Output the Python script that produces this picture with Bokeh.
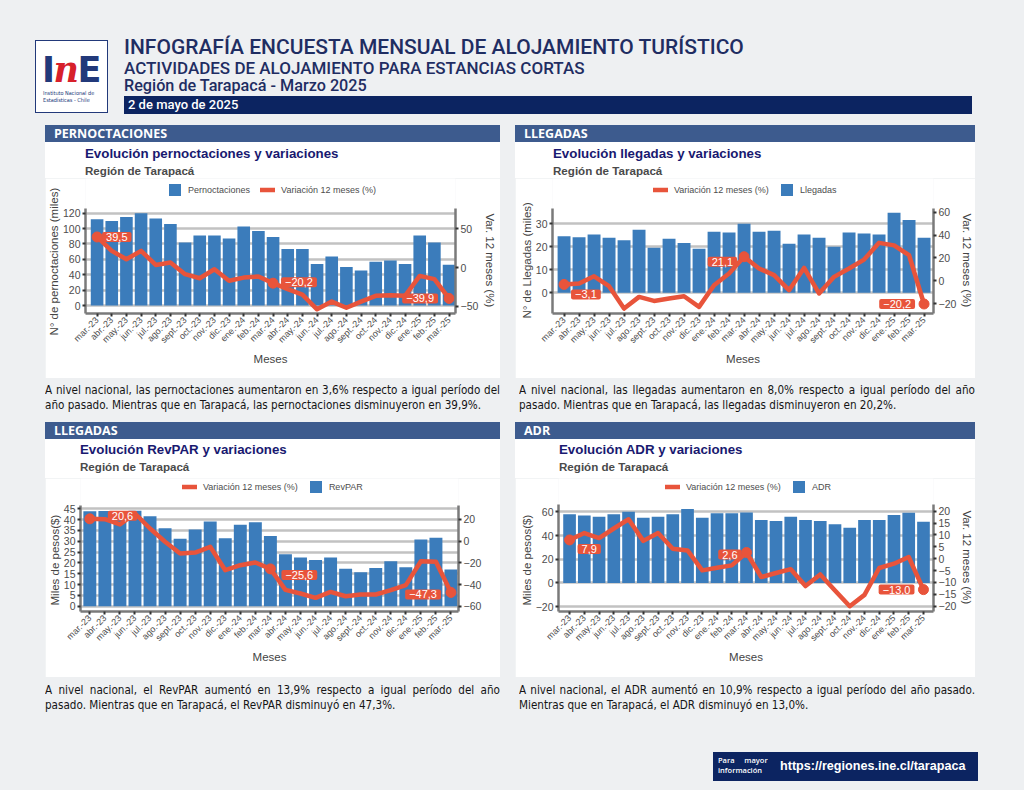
import math
from bokeh.plotting import figure
from bokeh.models import (Range1d, LinearAxis, FixedTicker, Legend, LegendItem,
                          Label, Div, Spacer, Title)
from bokeh.layouts import column, row
from bokeh.embed import file_html
from bokeh.resources import INLINE

# ---------------- data ----------------
months = ["mar.-23", "abr.-23", "may.-23", "jun.-23", "jul.-23", "ago.-23", "sept.-23",
          "oct.-23", "nov.-23", "dic.-23", "ene.-24", "feb.-24", "mar.-24", "abr.-24",
          "may.-24", "jun.-24", "jul.-24", "ago.-24", "sept.-24", "oct.-24", "nov.-24",
          "dic.-24", "ene.-25", "feb.-25", "mar.-25"]

pernoctaciones = [112, 110, 115, 120, 113, 106, 82, 91, 91, 87, 102.6, 97, 89, 73.6, 73.6,
                  54, 63.6, 50, 45.5, 57, 58.4, 54, 91, 82, 53]
pernoctaciones_var = [39.5, 21.5, 10.8, 21.5, 3.4, 6.5, -8.6, -13.8, -2.2, -17, -13, -11.6,
                      -20.2, -28, -35, -54, -44, -52, -44, -36.6, -35.8, -36.6, -10.8, -15, -39.9]

llegadas = [24.6, 24.2, 25.4, 23.9, 22.8, 27.4, 19.6, 23.5, 21.7, 19.1, 26.5, 26.2, 30, 26.5,
            27, 21.3, 25.4, 23.9, 20, 26.2, 25.8, 25.4, 34.8, 31.7, 23.9]
llegadas_var = [-3.1, -2.3, 4, -4.7, -24.2, -14, -17.5, -15.4, -13.4, -22.7, -3.8, 6.4, 21.1,
                10.8, 5, -8.1, 11.3, -11, 3.5, 10.8, 18.6, 33.2, 31, 22.4, -20.2]

revpar = [43.8, 44, 43, 44.1, 41.5, 36, 31.1, 35.4, 39.1, 31.4, 37.6, 38.8, 32.4, 24, 22.5,
          21.3, 22.5, 17.3, 15.7, 17.6, 20.8, 18, 30.8, 31.6, 17]
revpar_var = [20.6, 20.3, 15.4, 25.5, 11.7, -0.6, -11.4, -10.5, -5.2, -26.8, -22.2, -19.7,
              -25.6, -45, -48.3, -52.3, -46.8, -50.8, -49.2, -49.2, -45.2, -40.6, -18.5, -19, -47.3]

adr = [58, 57.1, 56, 58, 60.2, 55.1, 56, 58, 62.5, 55.1, 58.8, 58.8, 59.6, 53.1, 52.3, 56,
       53.1, 52.3, 49.5, 46.6, 53.1, 53.1, 57.4, 59.4, 51.7]
adr_var = [7.9, 10.8, 8.7, 12.7, 16.6, 7.5, 10.8, 4.2, 3.5, -4.9, -3.8, -2.8, 2.6, -7.7, -6,
           -4.4, -11.5, -6.6, -13.4, -20, -15.2, -3.9, -2.1, 0.7, -13.0]

labeled_idx = [0, 12, 24]

# ---------------- styles ----------------
BG = "#eef0f2"
BLUE = "#3b7cbb"
RED = "#e8543b"
NAVY = "#0c2461"
SECTION = "#3d5b8e"
FONT = "Liberation Sans"
MINUS = "\u2212"


def fmt_num(v):
    s = ("%g" % v) if float(v).is_integer() else ("%.1f" % v)
    return s.replace("-", MINUS)


def fmt_lab(v):
    return ("%.1f" % v).replace(".", ",").replace("-", MINUS)


def axis_title(text, offset, standoff):
    return Title(text=text, align="left", offset=offset, standoff=standoff,
                 text_font=FONT, text_font_size="11.5px", text_font_style="normal",
                 text_color="#444444")


def make_chart(bars, var, bar_name, bar_first, width, height, borders, extra_top,
               xr, yr, y2r, yticks, y2ticks, ylab, y2lab, legend_xy, label_offsets):
    """borders = (left, right, bottom); extra_top = pixels of frame above the plotting
    area that hold the legend (axes are bounded to the plotting area).
    ylab / y2lab = (text, offset, standoff)."""
    x = list(range(len(months)))
    frame_h = height - borders[2]
    plot_h = frame_h - extra_top

    def ext(r):
        return (r[0], r[1] + (r[1] - r[0]) * extra_top / plot_h)

    p = figure(width=width, height=height, output_backend="svg", toolbar_location=None,
               x_range=Range1d(*xr), y_range=Range1d(*ext(yr)), title=None,
               min_border_left=borders[0], min_border_right=borders[1],
               min_border_top=0, min_border_bottom=borders[2])
    p.margin = 0
    p.extra_y_ranges = {"var": Range1d(*ext(y2r))}
    p.background_fill_color = "white"
    p.border_fill_color = "white"
    p.outline_line_color = None

    rb = p.vbar(x=x, top=bars, width=0.86, fill_color=BLUE, line_color=None)
    rl = p.line(x=x, y=var, y_range_name="var", line_color=RED, line_width=4.5,
                line_join="round", line_cap="round")
    p.scatter(x=[x[i] for i in labeled_idx], y=[var[i] for i in labeled_idx],
              y_range_name="var", size=10, color=RED)

    # axes
    p.xaxis.ticker = FixedTicker(ticks=x)
    p.xaxis.major_label_overrides = {i: m for i, m in zip(x, months)}
    p.xaxis.major_label_orientation = math.pi / 4
    p.xaxis.axis_label = "Meses"
    p.yaxis.ticker = FixedTicker(ticks=yticks)
    p.yaxis.major_label_overrides = {t: fmt_num(t) for t in yticks}
    p.yaxis.bounds = yr
    ax2 = LinearAxis(y_range_name="var", ticker=FixedTicker(ticks=y2ticks),
                     major_label_overrides={t: fmt_num(t) for t in y2ticks}, bounds=y2r)
    p.add_layout(ax2, "right")

    for ax in [p.xaxis[0], p.yaxis[0], ax2]:
        ax.axis_line_color = "#7a7a7a"
        ax.axis_line_width = 2.5
        ax.major_tick_line_color = "#333333"
        ax.major_tick_line_width = 2
        ax.major_tick_out = 3
        ax.major_tick_in = 0
        ax.minor_tick_line_color = None
        ax.major_label_text_font = FONT
        ax.major_label_text_font_size = "10.5px"
        ax.major_label_text_color = "#4d4d4d"
        ax.major_label_standoff = 2
        ax.axis_label_text_font = FONT
        ax.axis_label_text_font_style = "normal"
        ax.axis_label_text_font_size = "11.5px"
        ax.axis_label_text_color = "#444444"
        ax.axis_label_standoff = 1
    p.xaxis.major_label_text_font_size = "9px"
    p.xaxis.axis_label_standoff = 1

    # axis titles centred on the plotting area (not on the legend strip)
    p.add_layout(axis_title(*ylab), "left")
    if y2lab:
        p.add_layout(axis_title(*y2lab), "right")

    p.xgrid.grid_line_color = None
    p.ygrid.ticker = FixedTicker(ticks=yticks)
    p.ygrid.grid_line_color = "#c2c2c2"
    p.ygrid.grid_line_width = 2.5

    items_bar = LegendItem(label=bar_name, renderers=[rb])
    items_line = LegendItem(label="Variación 12 meses (%)", renderers=[rl])
    items = [items_bar, items_line] if bar_first else [items_line, items_bar]
    legend = Legend(items=items, orientation="horizontal",
                    location=(legend_xy[0], plot_h + legend_xy[1]),
                    glyph_width=15, glyph_height=15, label_height=15, label_standoff=6,
                    spacing=10, padding=0, margin=0, border_line_color=None,
                    background_fill_alpha=0, label_text_font=FONT,
                    label_text_font_size="9px", label_text_color="#4d4d4d")
    p.add_layout(legend)

    for i, (dx, dy, align) in zip(labeled_idx, label_offsets):
        p.add_layout(Label(x=x[i], y=var[i], y_range_name="var", text=fmt_lab(var[i]),
                           x_offset=dx, y_offset=dy, text_align=align,
                           text_baseline="middle", text_color="white",
                           text_font=FONT, text_font_size="11px",
                           background_fill_color=RED, border_line_color=None,
                           padding=dict(left=4, right=4, top=1, bottom=1),
                           border_radius=2))
    return p


VAR_LAB = "Var. 12 meses (%)"
fig1 = make_chart(pernoctaciones, pernoctaciones_var, "Pernoctaciones", True, 455, 200,
                  (38, 44, 65), 30, (-0.79, 24.44), (-10.4, 126.1), (-59.4, 76.3),
                  [0, 20, 40, 60, 80, 100, 120], [-50, 0, 50],
                  ("N° de pernoctaciones (miles)", -22, 0), (VAR_LAB, 35, 5), (82, 11),
                  [(5, 0, "left"), (8, 1, "left"), (-11, 0, "right")])
fig2 = make_chart(llegadas, llegadas_var, "Llegadas", False, 460, 200,
                  (37, 42, 65), 30, (-0.77, 24.63), (-9.0, 36.65), (-28.5, 63.2),
                  [0, 10, 20, 30], [-20, 0, 20, 40, 60],
                  ("N° de Llegadas (miles)", -5, 0), (VAR_LAB, 35, 2), (101, 11),
                  [(7, -10, "left"), (-7, -5, "right"), (-9, 0, "right")])
fig3 = make_chart(revpar, revpar_var, "RevPAR", False, 455, 199,
                  (35, 42, 66), 27, (-0.62, 24.5), (-2.45, 46.5), (-64.9, 32.9),
                  [0, 5, 10, 15, 20, 25, 30, 35, 40, 45], [-60, -40, -20, 0, 20],
                  ("Miles de pesos($)", 6, 0), None, (102, 11),
                  [(18, 3, "left"), (11, -6, "left"), (-10, -2, "right")])
fig4 = make_chart(adr, adr_var, "ADR", False, 460, 199,
                  (43, 42, 66), 26, (-0.75, 24.68), (-24.2, 66.3), (-22.2, 22.8),
                  [-20, 0, 20, 40, 60], [-20, -15, -10, -5, 0, 5, 10, 15, 20],
                  ("Miles de pesos($)", 6, 0), (VAR_LAB, 32, 2), (107, 10),
                  [(8, -9, "left"), (-5, -2, "right"), (-9, 0, "right")])

# ---------------- html blocks ----------------
DIVSTYLE = {"padding": "0", "margin": "0", "overflow": "hidden"}


def header_div():
    html = f"""
<div style="position:relative;width:1024px;height:120px;">
  <div style="position:absolute;left:35px;top:40px;width:73px;height:73px;background:#fff;border:1.5px solid #22397a;box-sizing:border-box;">
    <div style="position:absolute;left:6px;top:11px;font-family:'DejaVu Sans';font-weight:bold;font-size:35px;line-height:35px;letter-spacing:-1.5px;white-space:nowrap;">
      <span style="color:#22397a">I</span><span style="color:#d7202b;font-family:'DejaVu Serif';font-style:italic;">n</span><span style="color:#22397a">E</span>
    </div>
    <div style="position:absolute;left:7px;top:49px;font-family:'DejaVu Sans Condensed';font-size:5.5px;line-height:6.5px;color:#22397a;white-space:nowrap;">Instituto Nacional de<br>Estadísticas - Chile</div>
  </div>
  <div style="position:absolute;left:124px;top:37px;font-family:'Roboto';font-weight:500;font-size:21px;line-height:21px;color:#1f2d62;white-space:nowrap;">INFOGRAFÍA ENCUESTA MENSUAL DE ALOJAMIENTO TURÍSTICO</div>
  <div style="position:absolute;left:124px;top:59.5px;font-family:'Roboto';font-weight:500;font-size:17px;line-height:17px;color:#1f2d62;white-space:nowrap;">ACTIVIDADES DE ALOJAMIENTO PARA ESTANCIAS CORTAS</div>
  <div style="position:absolute;left:124px;top:77.5px;font-family:'Roboto';font-weight:500;font-size:16.2px;line-height:16.2px;color:#1f2d62;white-space:nowrap;">Región de Tarapacá - Marzo 2025</div>
  <div style="position:absolute;left:124px;top:96px;width:848px;height:18px;background:{NAVY};"></div>
  <div style="position:absolute;left:128px;top:96px;height:18px;line-height:18px;font-family:'Roboto';font-weight:500;font-size:13px;color:#fff;white-space:nowrap;">2 de mayo de 2025</div>
</div>"""
    return Div(text=html, width=1024, height=120, margin=0, styles=DIVSTYLE)


def section_div(width, bar_top, section, title, title_left, title_top, sub_top):
    html = f"""
<div style="position:relative;width:{width}px;height:58px;">
  <div style="position:absolute;left:0;top:{bar_top}px;width:{width}px;height:17px;background:{SECTION};"></div>
  <div style="position:absolute;left:9px;top:{bar_top}px;height:17px;line-height:17px;font-family:'Open Sans';font-weight:bold;font-size:12.5px;color:#fff;white-space:nowrap;">{section}</div>
  <div style="position:absolute;left:0;top:{bar_top + 17}px;width:{width}px;height:{58 - bar_top - 17}px;background:#fff;"></div>
  <div style="position:absolute;left:{title_left}px;top:{title_top}px;font-family:'{FONT}';font-weight:bold;font-size:13.3px;line-height:13.3px;color:#191970;white-space:nowrap;">{title}</div>
  <div style="position:absolute;left:{title_left}px;top:{sub_top}px;font-family:'{FONT}';font-weight:bold;font-size:11.6px;line-height:11.6px;color:#4a4a4a;white-space:nowrap;">Región de Tarapacá</div>
</div>"""
    return Div(text=html, width=width, height=58, margin=0, styles=DIVSTYLE)


def text_div(width, height, left, top, line1, line2, line_w):
    html = f"""
<div style="position:relative;width:{width}px;height:{height}px;font-family:'DejaVu Sans Condensed';font-size:11.6px;line-height:15px;color:#151515;">
  <div style="position:absolute;left:{left}px;top:{top}px;width:{line_w}px;height:15px;overflow:hidden;text-align:justify;text-align-last:justify;">{line1}</div>
  <div style="position:absolute;left:{left}px;top:{top + 15}px;white-space:nowrap;">{line2}</div>
</div>"""
    return Div(text=html, width=width, height=height, margin=0, styles=DIVSTYLE)


def footer_div():
    html = f"""
<div style="position:relative;width:1024px;height:70px;">
  <div style="position:absolute;left:713px;top:32px;width:265px;height:29px;background:{NAVY};"></div>
  <div style="position:absolute;left:718px;top:36px;font-family:'Open Sans';font-weight:600;font-size:7.5px;line-height:9.5px;color:#fff;white-space:nowrap;">Para &nbsp;&nbsp;&nbsp;&nbsp;mayor<br>información</div>
  <div style="position:absolute;left:780px;top:39px;font-family:'Liberation Sans';font-weight:bold;font-size:12.6px;line-height:15px;color:#fff;white-space:nowrap;">https://regiones.ine.cl/tarapaca</div>
</div>"""
    return Div(text=html, width=1024, height=70, margin=0, styles=DIVSTYLE)


s1 = section_div(455, 5, "PERNOCTACIONES", "Evolución pernoctaciones y variaciones", 40, 27, 45)
s2 = section_div(460, 5, "LLEGADAS", "Evolución llegadas y variaciones", 38, 27, 45)
s3 = section_div(455, 2, "LLEGADAS", "Evolución RevPAR y variaciones", 35, 23, 41)
s4 = section_div(460, 2, "ADR", "Evolución ADR y variaciones", 44, 23, 41)

t1 = text_div(455, 42, 0, 5,
              "A nivel nacional, las pernoctaciones aumentaron en 3,6% respecto a igual período del",
              "año pasado. Mientras que en Tarapacá, las pernoctaciones disminuyeron en 39,9%.", 455)
t2 = text_div(460, 42, 4, 5,
              "A nivel nacional, las llegadas aumentaron en 8,0% respecto a igual período del año",
              "pasado. Mientras que en Tarapacá, las llegadas disminuyeron en 20,2%.", 456)
t3 = text_div(455, 43, 0, 6,
              "A nivel nacional, el RevPAR aumentó en 13,9% respecto a igual período del año",
              "pasado. Mientras que en Tarapacá, el RevPAR disminuyó en 47,3%.", 455)
t4 = text_div(460, 43, 4, 6,
              "A nivel nacional, el ADR aumentó en 10,9% respecto a igual período del año pasado.",
              "Mientras que en Tarapacá, el ADR disminuyó en 13,0%.", 456)

col1 = column(s1, fig1, t1, margin=0, spacing=0)
col2 = column(s2, fig2, t2, margin=0, spacing=0)
col3 = column(s3, fig3, t3, margin=0, spacing=0)
col4 = column(s4, fig4, t4, margin=0, spacing=0)

row1 = row(Spacer(width=45, height=300, margin=0), col1, Spacer(width=15, height=300, margin=0),
           col2, Spacer(width=49, height=300, margin=0), margin=0, spacing=0)
row2 = row(Spacer(width=45, height=300, margin=0), col3, Spacer(width=15, height=300, margin=0),
           col4, Spacer(width=49, height=300, margin=0), margin=0, spacing=0)

p = column(header_div(), row1, row2, footer_div(), margin=0, spacing=0,
           width=1024, height=790, styles={"background-color": BG})

open("out.html", "w").write(file_html(p, INLINE))
